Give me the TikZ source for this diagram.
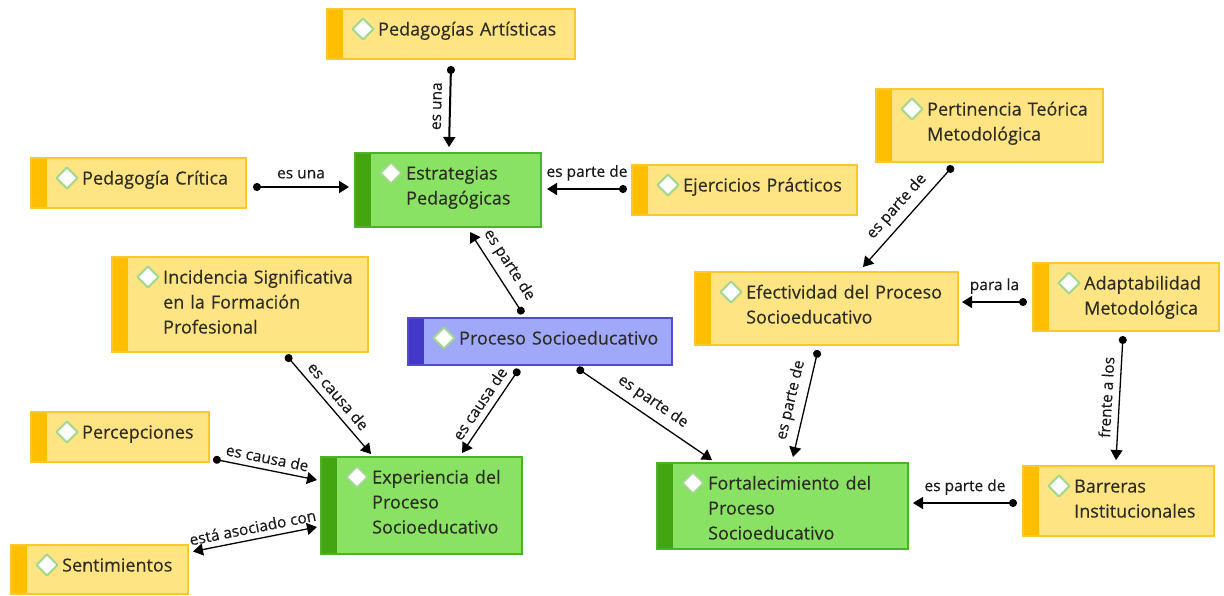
\documentclass[tikz,border=0pt]{standalone}
\usepackage{fontspec}
\setmainfont{Open Sans}[FakeBold=0.3]
\usetikzlibrary{arrows.meta}
\definecolor{fillY}{RGB}{254,228,130}
\definecolor{lineY}{RGB}{248,200,45}
\definecolor{barY}{RGB}{255,190,0}
\definecolor{fillG}{RGB}{138,226,100}
\definecolor{lineG}{RGB}{78,178,40}
\definecolor{barG}{RGB}{68,165,18}
\definecolor{fillB}{RGB}{160,168,250}
\definecolor{lineB}{RGB}{82,74,212}
\definecolor{barB}{RGB}{68,56,200}
\definecolor{diaLine}{RGB}{160,215,140}
\definecolor{ink}{RGB}{44,44,32}
\tikzset{
  box/.style={draw, line width=1.5pt, outer sep=0pt, inner sep=0pt, anchor=north west},
  ybox/.style={fill=fillY, draw=lineY, path picture={\fill[barY] (path picture bounding box.north west) rectangle ([xshift=16pt]path picture bounding box.south west);}},
  gbox/.style={fill=fillG, draw=lineG, path picture={\fill[barG] (path picture bounding box.north west) rectangle ([xshift=16pt]path picture bounding box.south west);}},
  bbox/.style={fill=fillB, draw=lineB, path picture={\fill[barB] (path picture bounding box.north west) rectangle ([xshift=16pt]path picture bounding box.south west);}},
  boxtext/.style={anchor=base west, inner sep=0pt, text width=300pt, align=left, text=ink, font=\fontsize{18}{25}\selectfont},
  diam/.style={draw=diaLine, fill=white, line width=1.8pt, line join=round},
  lbl/.style={font=\fontsize{15.5}{18}\selectfont, text=black!90, inner sep=2.5pt},
  link/.style={line width=1.3pt, {Circle[length=8pt]}-{Triangle[length=10pt,width=12pt]}},
  twoway/.style={line width=1.3pt, {Triangle[length=10pt,width=12pt]}-{Triangle[length=10pt,width=12pt]}}
}
\begin{document}
\begin{tikzpicture}[x=1pt, y=-1pt, line cap=round]
  \useasboundingbox (0,0) rectangle (1224,595);
  % concepts: name/x/y/width/height/style/text
  \foreach \n/\x/\y/\w/\h/\s/\t in {
      pa/327/9/248/50/ybox/{Pedagogías Artísticas},
      es/355/153/186/74/gbox/{Estrategias\\Pedagógicas},
      pc/31/158/215/50/ybox/{Pedagogía Crítica},
      ej/632/165/225/50/ybox/{Ejercicios Prácticos},
      pt/876/89/227/73/ybox/{Pertinencia Teórica\\Metodológica},
      is/112/257/256/95/ybox/{Incidencia Significativa\\en la Formación\\Profesional},
      ps/408/318/264/47/bbox/{Proceso Socioeducativo},
      ef/695/272/263/73/ybox/{Efectividad del Proceso\\Socioeducativo},
      ad/1033/263/186/68/ybox/{Adaptabilidad\\Metodológica},
      pe/31/412/178/50/ybox/{Percepciones},
      ex/321/457/201/97/gbox/{Experiencia del\\Proceso\\Socioeducativo},
      se/11/545/177/49/ybox/{Sentimientos},
      fo/657/463/251/86/gbox/{Fortalecimiento del\\Proceso\\Socioeducativo},
      ba/1023/466/191/70/ybox/{Barreras\\Institucionales}}{
    \node[box, \s, minimum width=\w pt, minimum height=\h pt] (\n) at (\x,\y) {};
    \draw[diam] ([shift={(25.5,20)}]\n.north west) -- ++(10.5,-10.5) -- ++(10.5,10.5) -- ++(-10.5,10.5) -- cycle;
    \node[boxtext] (\n-t) at ([shift={(51,26.5)}]\n.north west) {\t};
  }
  % links
  \draw[link, line width=2pt] ([shift={(0,7)}]pa.south) -- ([shift={(1,-6)}]es.north)
    node[lbl, midway, sloped, above=5pt] {es una};
  \draw[link, line width=2pt] ([shift={(7,4)}]pc.east) -- ([shift={(-6,-3)}]es.west)
    node[lbl, midway, sloped, above=5pt] {es una};
  \draw[link, line width=1.8pt] ([shift={(-5,-1)}]ej.west) -- ([shift={(6,-1)}]es.east)
    node[lbl, midway, sloped, above=5pt] {es parte de};
  \draw[link] ([shift={(-17,-4)}]ps.north) -- ([shift={(22,5)}]es.south)
    node[lbl, midway, sloped, above=4pt] {es parte de};
  \draw[link] ([shift={(-36.5,4)}]pt.south) -- ([shift={(36.5,-5)}]ef.north)
    node[lbl, midway, sloped, above=4pt] {es parte de};
  \draw[link] ([shift={(-6,5)}]ad.west) -- ([shift={(4,-6.5)}]ef.east)
    node[lbl, midway, sloped, above=5pt] {para la};
  \draw[link] ([shift={(-3,5)}]ad.south) -- ([shift={(-2.5,-6)}]ba.north)
    node[lbl, midway, sloped, above=4pt] {frente a los};
  \draw[link] ([shift={(-8.5,5)}]ef.south) -- ([shift={(10.5,-6)}]fo.north)
    node[lbl, midway, sloped, above=4pt] {es parte de};
  \draw[link] ([shift={(-6,2)}]ba.west) -- ([shift={(5,-3)}]fo.east)
    node[lbl, midway, sloped, above=5pt] {es parte de};
  \draw[link] ([shift={(37,3)}]ps.south) -- ([shift={(-70.5,-3)}]fo.north)
    node[lbl, midway, sloped, above=4pt] {es parte de};
  \draw[link] ([shift={(-21,4)}]ps.south) -- ([shift={(40.5,-4)}]ex.north)
    node[lbl, midway, sloped, above=4pt] {es causa de};
  \draw[link] ([shift={(46,3)}]is.south) -- ([shift={(-50.5,-3)}]ex.north)
    node[lbl, midway, sloped, above=4pt] {es causa de};
  \draw[link] ([shift={(4,22)}]pe.east) -- ([shift={(-4,-25.5)}]ex.west)
    node[lbl, midway, sloped, above=3pt] {es causa de};
  \draw[twoway] ([shift={(-4,21.5)}]ex.west) -- ([shift={(5,-18)}]se.east)
    node[lbl, midway, sloped, above=3pt] {está asociado con};
\end{tikzpicture}
\end{document}
